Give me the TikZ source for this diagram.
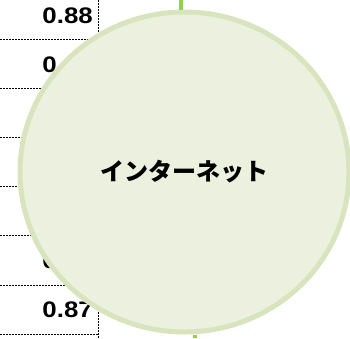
\documentclass[tikz,border=0pt]{standalone}
\usepackage{fontspec}
\usetikzlibrary{shapes.geometric}
\newfontfamily\jpfont{Noto Sans CJK JP}
\newfontfamily\numfont[FakeStretch=1.15]{Liberation Sans}
\definecolor{cfill}{HTML}{EBF1DE}
\definecolor{cedge}{HTML}{D7E4BD}
\definecolor{cline}{HTML}{92D050}
\tikzset{
  grid/.style={line width=1pt, dash pattern=on 2pt off 1pt, black},
  numlbl/.style={anchor=base east, inner sep=0pt, font=\numfont\bfseries\fontsize{22.5pt}{24pt}\selectfont},
  bubble/.style={ellipse, draw=cedge, fill=cfill, line width=5pt, inner sep=0pt,
                 minimum width=329pt, minimum height=320pt,
                 font=\jpfont\bfseries\fontsize{24pt}{27pt}\selectfont},
  link/.style={cline, line width=4pt}
}
\begin{document}
\begin{tikzpicture}[x=1pt,y=1pt]
\useasboundingbox (0,0) rectangle (350,-338);
% table behind
\foreach \yy in {39,88.2,137.4,186.6,235.8,285,334.2}
  \draw[grid] (0,-\yy) -- (98,-\yy);
\draw[grid] (98,0) -- (98,-338);
\node[numlbl] (n0) at (93,-23) {0.88};
\node[numlbl] (n1) at (93,-72.2) {0.88};
\node[numlbl] (n5) at (93,-268.2) {0.87};
\node[numlbl] (n6) at (93,-317.4) {0.87};
% bubble
\node[bubble] (net) at (184.5,-172) {インターネット};
% links
\coordinate (t) at (181,0);
\coordinate (b) at (195,-338);
\draw[link] (t) -- (t |- net.north);
\draw[link] (b) -- (b |- net.south);
\end{tikzpicture}
\end{document}
